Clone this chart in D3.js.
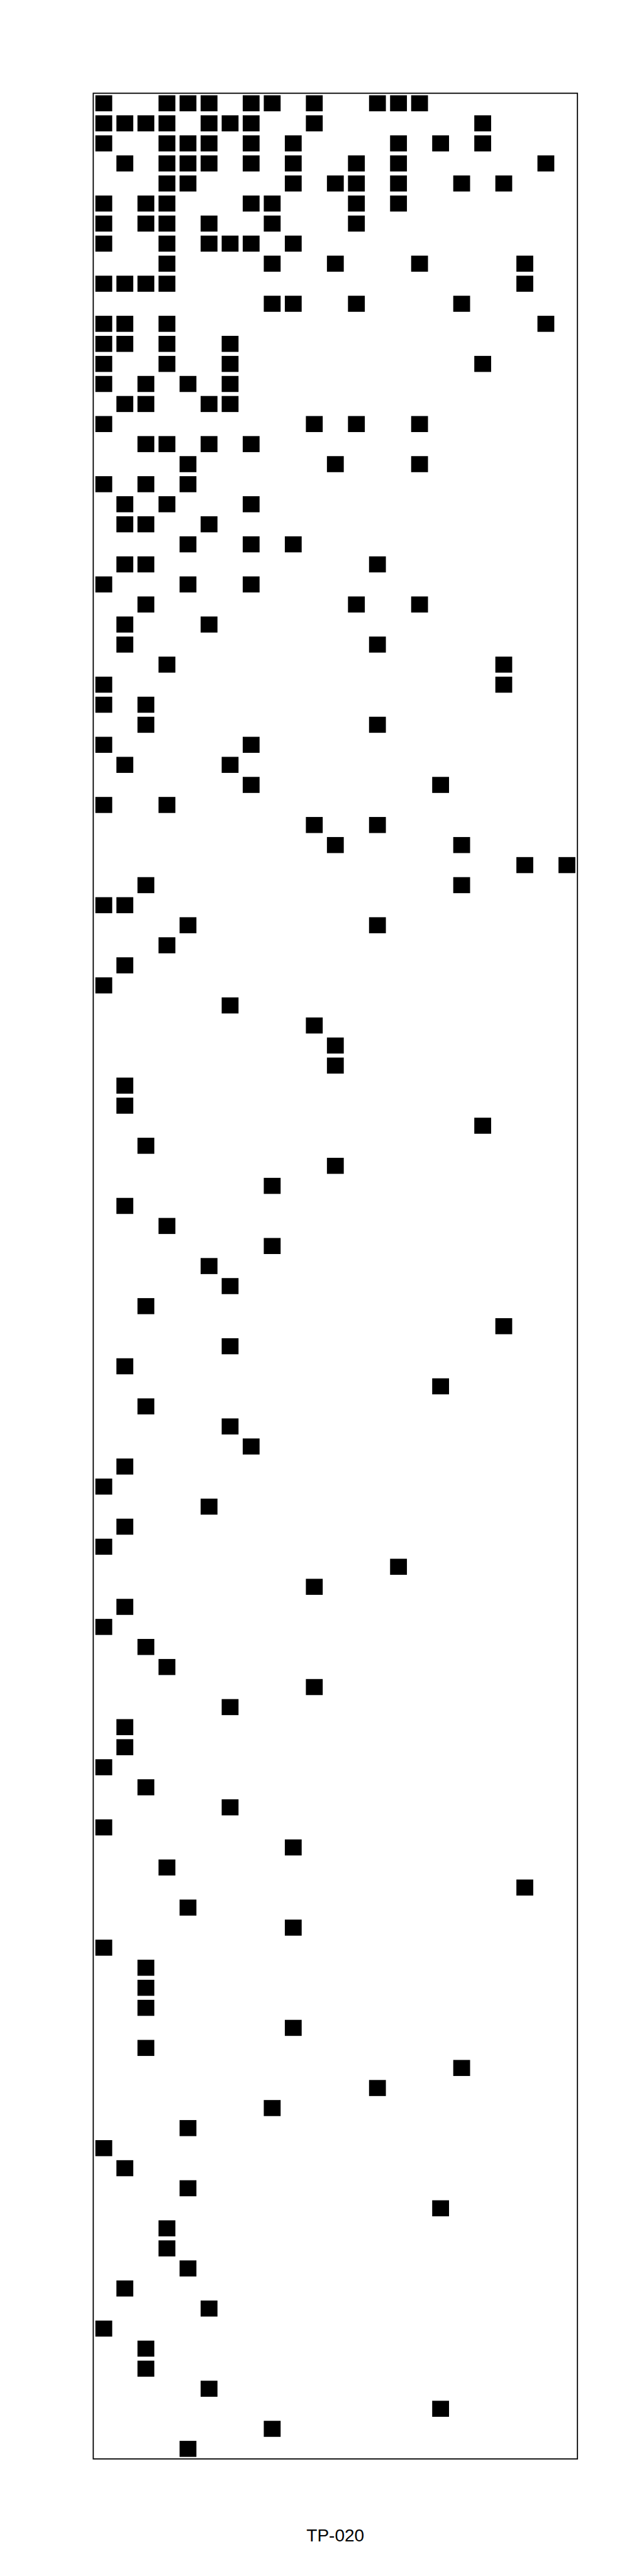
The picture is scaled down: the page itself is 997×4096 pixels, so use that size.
<!DOCTYPE html>
<html>
<head>
<meta charset="utf-8">
<script src="https://cdn.jsdelivr.net/npm/d3@7"></script>
<style>
  html, body { margin: 0; padding: 0; background: #fff; }
  svg { display: block; }
</style>
</head>
<body>
<div id="chart"></div>
<script>
// Column categories (23) and row categories (118)
const columns = ["c0","c1","c2","c3","c4","c5","c6","c7","c8","c9","c10","c11","c12","c13","c14","c15","c16","c17","c18","c19","c20","c21","c22"];
const title = "TP-020";

// For each row (top to bottom), the column indices that hold a filled cell
const rowCols = [
  [0,3,4,5,7,8,10,13,14,15],
  [0,1,2,3,5,6,7,10,18],
  [0,3,4,5,7,9,14,16,18],
  [1,3,4,5,7,9,12,14,21],
  [3,4,9,11,12,14,17,19],
  [0,2,3,7,8,12,14],
  [0,2,3,5,8,12],
  [0,3,5,6,7,9],
  [3,8,11,15,20],
  [0,1,2,3,20],
  [8,9,12,17],
  [0,1,3,21],
  [0,1,3,6],
  [0,3,6,18],
  [0,2,4,6],
  [1,2,5,6],
  [0,10,12,15],
  [2,3,5,7],
  [4,11,15],
  [0,2,4],
  [1,3,7],
  [1,2,5],
  [4,7,9],
  [1,2,13],
  [0,4,7],
  [2,12,15],
  [1,5],
  [1,13],
  [3,19],
  [0,19],
  [0,2],
  [2,13],
  [0,7],
  [1,6],
  [7,16],
  [0,3],
  [10,13],
  [11,17],
  [20,22],
  [2,17],
  [0,1],
  [4,13],
  [3],[1],[0],[6],[10],[11],[11],[1],
  [1],[18],[2],[11],[8],[1],[3],[8],[5],
  [6],[2],[19],[6],[1],[16],[2],[6],[7],[1],
  [0],[5],[1],[0],[14],[10],[1],[0],[2],[3],
  [10],[6],[1],[1],[0],[2],[6],[0],[9],[3],
  [20],[4],[9],[0],[2],[2],[2],[9],[2],[17],
  [13],[8],[4],[0],[1],[4],[16],[3],[3],[4],
  [1],[5],[0],[2],[2],[5],[16],[8],[4]
];
const rows = rowCols.map((_, i) => "r" + i);

const W = 997, H = 4096;
const margin = { left: 148.3, right: W - 918.2, top: 148.3, bottom: H - 3909.8 };

const svg = d3.select("#chart").append("svg")
  .attr("width", W).attr("height", H);

const x = d3.scaleBand().domain(columns)
  .range([margin.left, W - margin.right])
  .paddingInner(0.2).paddingOuter(0.1);
const y = d3.scaleBand().domain(rows)
  .range([margin.top, H - margin.bottom])
  .paddingInner(0.2).paddingOuter(0.1);

const cells = [];
rowCols.forEach((cs, r) => cs.forEach(c => cells.push({ row: rows[r], col: columns[c] })));

svg.append("g").selectAll("rect")
  .data(cells)
  .join("rect")
  .attr("x", d => x(d.col))
  .attr("y", d => y(d.row))
  .attr("width", x.bandwidth())
  .attr("height", y.bandwidth())
  .attr("fill", "#000");

// Frame
svg.append("rect")
  .attr("x", margin.left)
  .attr("y", margin.top)
  .attr("width", W - margin.right - margin.left)
  .attr("height", H - margin.bottom - margin.top)
  .attr("fill", "none")
  .attr("stroke", "#000")
  .attr("stroke-width", 1.8);

svg.append("text")
  .attr("x", (margin.left + W - margin.right) / 2)
  .attr("y", 4041)
  .attr("text-anchor", "middle")
  .attr("font-family", "'Liberation Sans', Arial, Helvetica, sans-serif")
  .attr("font-size", 28)
  .attr("fill", "#000")
  .text(title);
</script>
</body>
</html>
